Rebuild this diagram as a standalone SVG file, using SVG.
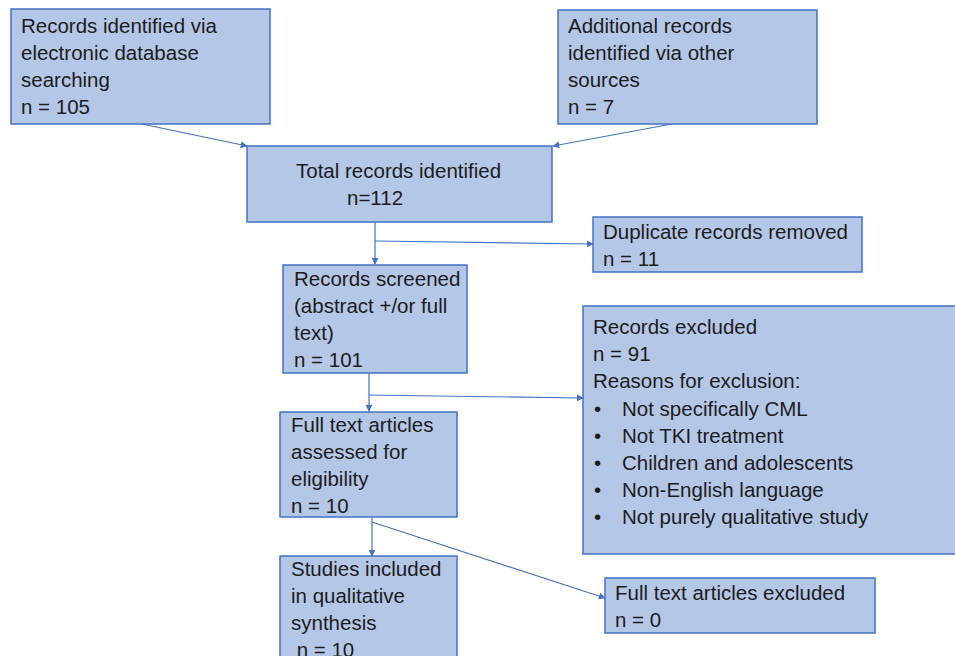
<svg xmlns="http://www.w3.org/2000/svg" width="955" height="656" viewBox="0 0 955 656">
<style>
.box{fill:#b4c7e7;stroke:#4472c4;stroke-width:1.5}
.t{font-family:"Liberation Sans",Arial,sans-serif;font-size:20.5px;fill:#1c1c1c}
.c{stroke:#4472c4;stroke-width:1.2;fill:none}
</style>
<defs>
<marker id="ah" viewBox="0 0 10 10" refX="9" refY="5" markerWidth="7" markerHeight="7" markerUnits="userSpaceOnUse" orient="auto">
<path d="M0,0 L10,5 L0,10 z" fill="#4472c4"/>
</marker>
</defs>
<rect width="955" height="656" fill="#ffffff"/>
<g id="connectors">
<line class="c" x1="142" y1="124" x2="247" y2="146" marker-end="url(#ah)"/>
<line class="c" x1="672" y1="124" x2="553" y2="146" marker-end="url(#ah)"/>
<line class="c" x1="375" y1="222" x2="375" y2="264" marker-end="url(#ah)"/>
<line class="c" x1="375" y1="241" x2="593" y2="244" marker-end="url(#ah)"/>
<line class="c" x1="369" y1="373" x2="369" y2="411" marker-end="url(#ah)"/>
<line class="c" x1="369" y1="395" x2="583" y2="398" marker-end="url(#ah)"/>
<line class="c" x1="372" y1="518" x2="372" y2="556" marker-end="url(#ah)"/>
<line class="c" x1="372" y1="522" x2="605" y2="598" marker-end="url(#ah)"/>
</g>
<g id="n1">
<rect class="box" x="11" y="9" width="259" height="115"/>
<text class="t" x="21" y="33"><tspan x="21">Records identified via</tspan><tspan x="21" dy="27">electronic database</tspan><tspan x="21" dy="27">searching</tspan><tspan x="21" dy="27">n = 105</tspan></text>
</g>
<g id="n2">
<rect class="box" x="558" y="10" width="259" height="114"/>
<text class="t" x="568" y="33"><tspan x="568">Additional records</tspan><tspan x="568" dy="27">identified via other</tspan><tspan x="568" dy="27">sources</tspan><tspan x="568" dy="27">n = 7</tspan></text>
</g>
<g id="n3">
<rect class="box" x="247" y="146" width="305" height="76"/>
<text class="t" x="296" y="178"><tspan x="296">Total records identified</tspan><tspan x="347" dy="27">n=112</tspan></text>
</g>
<g id="n4">
<rect class="box" x="593" y="217" width="269" height="55"/>
<text class="t" x="603" y="239"><tspan x="603">Duplicate records removed</tspan><tspan x="603" dy="27">n = 11</tspan></text>
</g>
<g id="n5">
<rect class="box" x="283" y="265" width="184" height="108"/>
<text class="t" x="294" y="286"><tspan x="294">Records screened</tspan><tspan x="294" dy="27">(abstract +/or full</tspan><tspan x="294" dy="27">text)</tspan><tspan x="294" dy="27">n = 101</tspan></text>
</g>
<g id="n6">
<rect class="box" x="583" y="306" width="380" height="248"/>
<text class="t" x="593" y="334"><tspan x="593">Records excluded</tspan><tspan x="593" dy="27">n = 91</tspan><tspan x="593" dy="27">Reasons for exclusion:</tspan></text>
<text class="t" x="594" y="416"><tspan x="594">•</tspan><tspan x="594" dy="27">•</tspan><tspan x="594" dy="27">•</tspan><tspan x="594" dy="27">•</tspan><tspan x="594" dy="27">•</tspan></text>
<text class="t" x="622" y="416"><tspan x="622">Not specifically CML</tspan><tspan x="622" dy="27">Not TKI treatment</tspan><tspan x="622" dy="27">Children and adolescents</tspan><tspan x="622" dy="27">Non-English language</tspan><tspan x="622" dy="27">Not purely qualitative study</tspan></text>
</g>
<g id="n7">
<rect class="box" x="280" y="412" width="177" height="105"/>
<text class="t" x="291" y="432"><tspan x="291">Full text articles</tspan><tspan x="291" dy="27">assessed for</tspan><tspan x="291" dy="27">eligibility</tspan><tspan x="291" dy="27">n = 10</tspan></text>
</g>
<g id="n8">
<rect class="box" x="280" y="556" width="177" height="110"/>
<text class="t" x="291" y="576"><tspan x="291">Studies included</tspan><tspan x="291" dy="27">in qualitative</tspan><tspan x="291" dy="27">synthesis</tspan><tspan x="291" dy="27"> n = 10</tspan></text>
</g>
<g id="n9">
<rect class="box" x="605" y="578" width="270" height="55"/>
<text class="t" x="615" y="600"><tspan x="615">Full text articles excluded</tspan><tspan x="615" dy="27">n = 0</tspan></text>
</g>
</svg>
